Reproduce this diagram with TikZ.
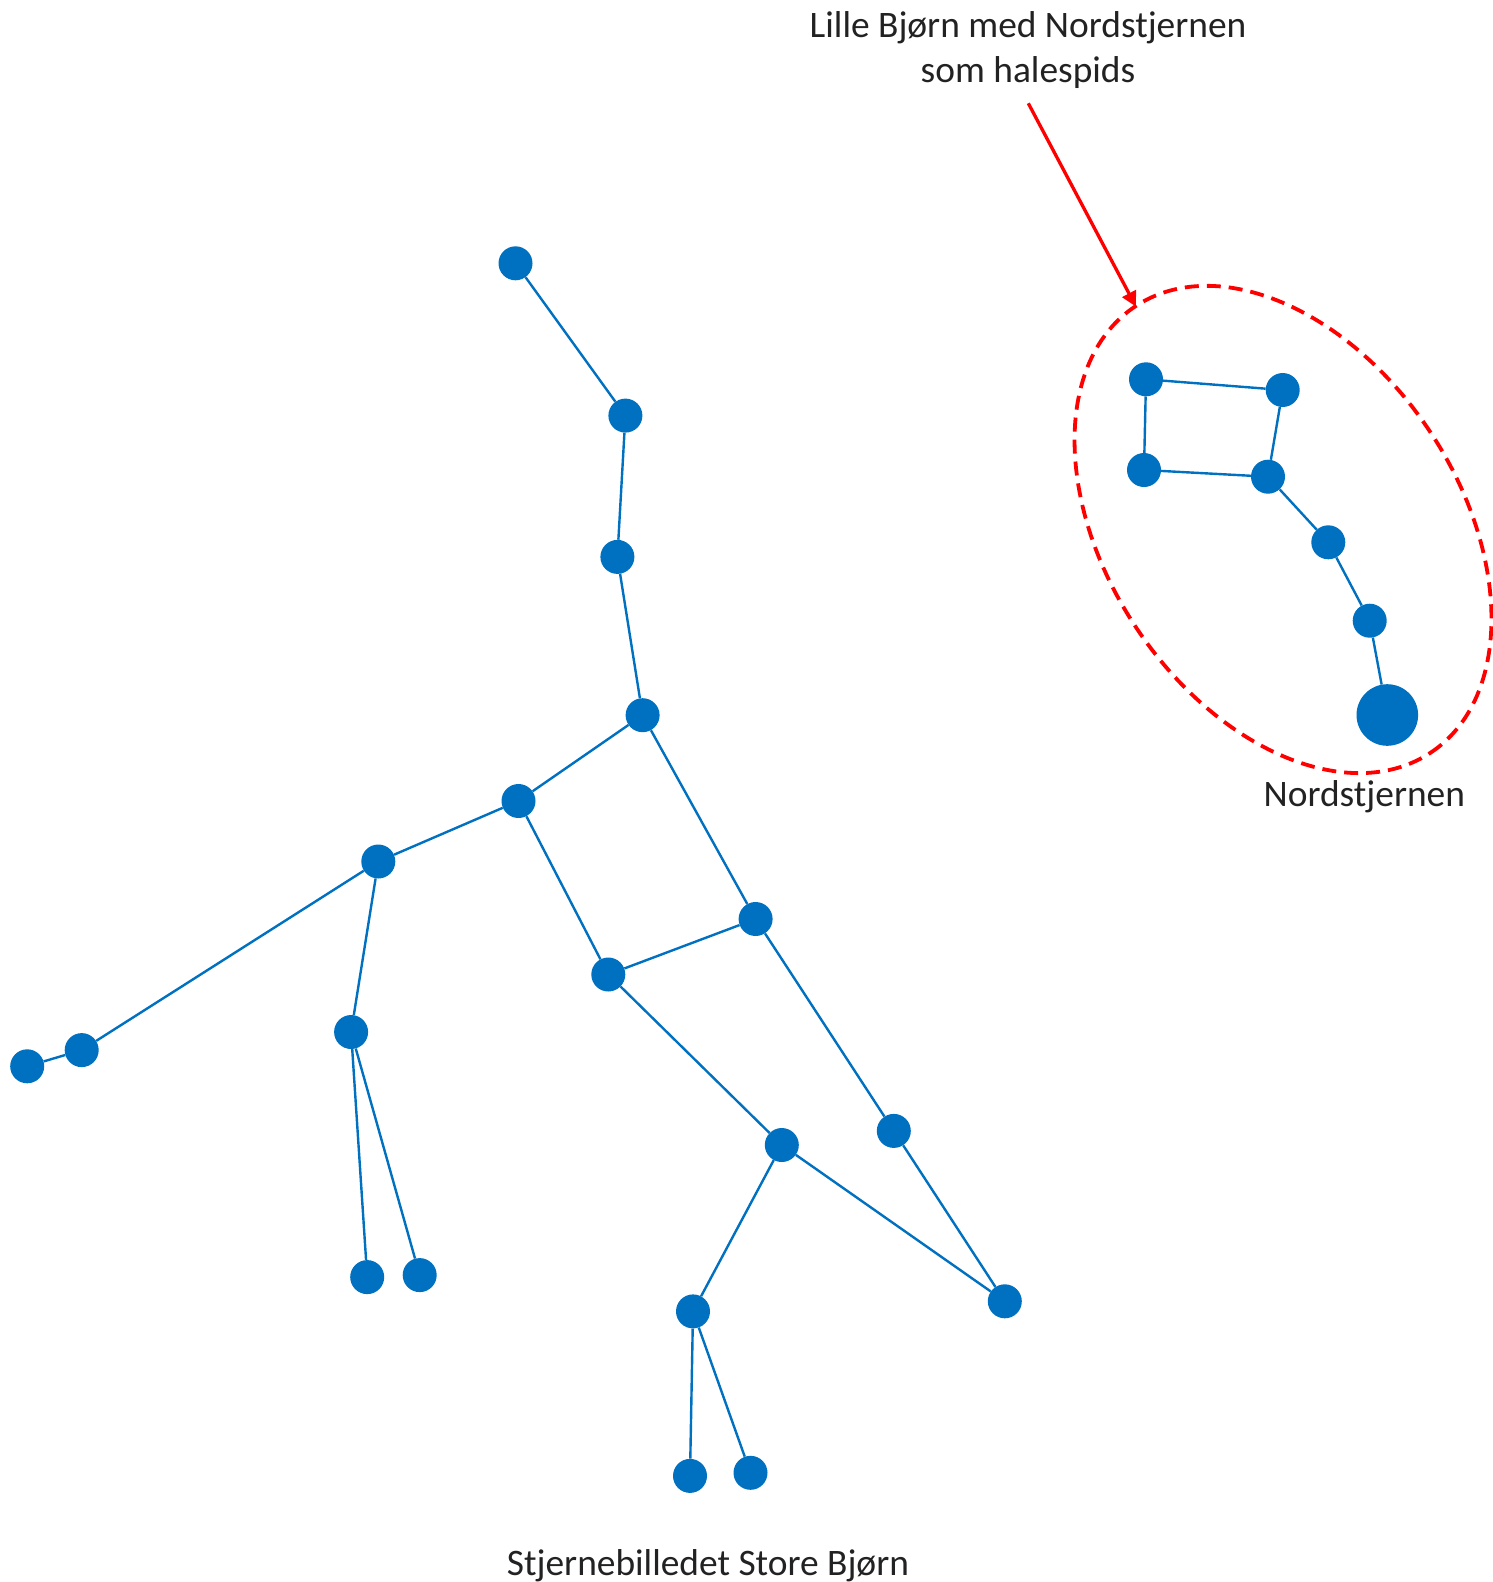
\documentclass[tikz,border=0pt]{standalone}
\usepackage{fontspec}
\setmainfont{Carlito}
\usetikzlibrary{arrows.meta}
\definecolor{starblue}{HTML}{0070C0}
\definecolor{txt}{HTML}{222222}
\begin{document}
\begin{tikzpicture}[x=1pt,y=-1pt,
  star/.style={circle,fill=starblue,inner sep=0pt,minimum size=34pt},
  bigstar/.style={circle,fill=starblue,inner sep=0pt,minimum size=61.6pt},
  link/.style={draw=starblue,line width=2.4pt},
  lbl/.style={inner sep=0pt,text=txt,font=\fontsize{37.4}{45}\selectfont,align=center}]
\useasboundingbox (0,0) rectangle (1492,1582);
% Store Bjorn
\node[star] (A) at (515.5,263.3) {};
\node[star] (B) at (625.4,415.6) {};
\node[star] (C) at (617.4,556.9) {};
\node[star] (D) at (642.6,715.2) {};
\node[star] (E) at (518.5,801.0) {};
\node[star] (F) at (378.3,861.5) {};
\node[star] (G) at (81.7,1050.1) {};
\node[star] (H) at (27.2,1066.3) {};
\node[star] (I) at (351.1,1032.0) {};
\node[star] (J) at (367.2,1277.1) {};
\node[star] (K) at (419.7,1275.1) {};
\node[star] (L) at (755.6,919.0) {};
\node[star] (M) at (608.3,974.5) {};
\node[star] (N) at (893.8,1130.9) {};
\node[star] (O) at (781.8,1145.0) {};
\node[star] (P) at (1004.8,1301.3) {};
\node[star] (Q) at (693.0,1311.4) {};
\node[star] (R) at (690.0,1475.9) {};
\node[star] (S) at (750.5,1472.8) {};
\foreach \u/\v in {A/B,B/C,C/D,D/E,E/F,F/G,G/H,F/I,I/J,I/K,E/M,D/L,L/M,M/O,L/N,N/P,O/P,O/Q,Q/R,Q/S}
  \draw[link] (\u) -- (\v);
% Lille Bjorn
\node[star] (a) at (1146,379.3) {};
\node[star] (b) at (1282.7,390) {};
\node[star] (c) at (1144,470) {};
\node[star] (d) at (1268,476.7) {};
\node[star] (e) at (1328.3,542.3) {};
\node[star] (f) at (1369.7,620.7) {};
\node[bigstar] (g) at (1387.3,715) {};
\foreach \u/\v in {a/b,a/c,c/d,b/d,d/e,e/f,f/g}
  \draw[link] (\u) -- (\v);
% ellipse
\coordinate (ec) at (1283,529.5);
\draw[red,line width=3.8pt,dash pattern=on 14pt off 8pt,rotate around={-56.56:(ec)}]
  (ec) ellipse [x radius=267.6pt,y radius=176.6pt];
% labels
\node[lbl,anchor=base] (top) at (1028,37.7) {Lille Bjørn med Nordstjernen};
\node[lbl,anchor=base] (top2) at (1028,82.7) {som halespids};
\node[lbl,anchor=base] (ns) at (1364.3,806.7) {Nordstjernen};
\node[lbl,anchor=base] (sb) at (708,1575) {Stjernebilledet Store Bjørn};
% arrow
\coordinate (as) at (1028.3,103.3);
\coordinate (ae) at (1136,306.7);
\draw[red,line width=3.3pt,-{Triangle[length=15pt,width=15pt]}] (as) -- (ae);
\end{tikzpicture}
\end{document}
